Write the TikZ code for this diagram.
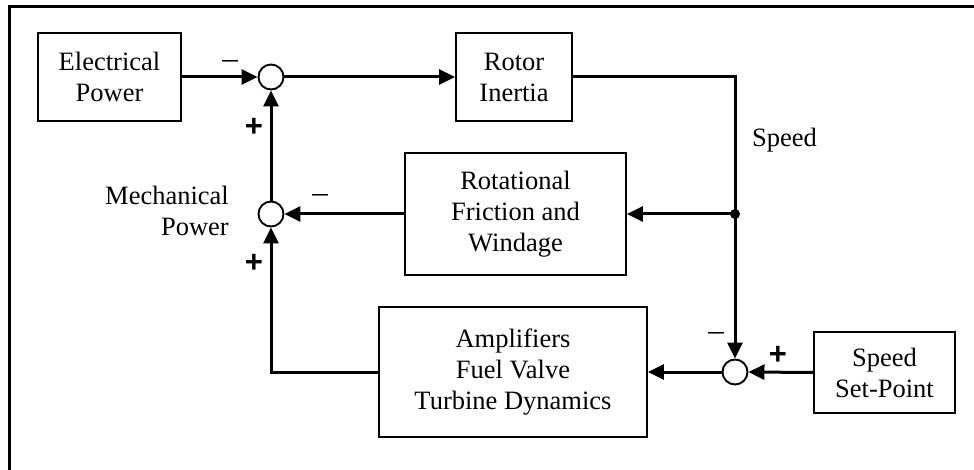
\documentclass[tikz,border=0pt]{standalone}
\usepackage{fontspec}
\setmainfont{Liberation Serif}
\newfontfamily\signfont{Liberation Sans}
\usetikzlibrary{arrows.meta}
\tikzset{
  blk/.style={draw, line width=1.9pt, inner sep=0pt, align=center, font=\fontsize{26.5}{31}\selectfont},
  sumc/.style={draw, circle, line width=1.9pt, minimum size=25pt, inner sep=0pt},
  conn/.style={line width=3pt, -{Triangle[length=16pt,width=15pt]}},
  plain/.style={line width=3pt},
  lbl/.style={inner sep=0pt, align=center, font=\fontsize{26.5}{31}\selectfont},
  plussign/.style={inner sep=0pt, font=\signfont\bfseries\fontsize{31}{31}\selectfont},
  minussign/.style={inner sep=0pt, font=\fontsize{31}{31}\selectfont},
}
\begin{document}
\begin{tikzpicture}[x=1pt,y=-1pt]
\useasboundingbox (0,0) rectangle (974,470);
\draw[line width=3.5pt] (9.5,472) -- (9.5,6.5) -- (976,6.5);

\node[blk, minimum width=143pt, minimum height=88pt] (elec) at (109.5,77) {Electrical\\Power};
\node[blk, minimum width=116pt, minimum height=88pt] (rotor) at (514,77) {Rotor\\Inertia};
\node[blk, minimum width=221pt, minimum height=122pt] (fric) at (515.5,214) {Rotational\\Friction and\\Windage};
\node[blk, minimum width=268pt, minimum height=130pt] (amp) at (513,372) {Amplifiers\\Fuel Valve\\Turbine Dynamics};
\node[blk, minimum width=141pt, minimum height=81pt] (sp) at (884.5,372.5) {Speed\\Set-Point};

\node[sumc] (s1) at (271,77) {};
\node[sumc] (s2) at (271,214) {};
\node[sumc] (s3) at (735,372) {};

\coordinate (c1) at (735,77);
\coordinate (j) at (735,214);
\fill (j) circle (5pt);

\draw[conn] (elec.east) -- (s1.west);
\draw[conn] (s1.east) -- (rotor.west);
\draw[plain] (rotor.east) -- (c1) -- (j);
\draw[conn] (j) -- (s3.north);
\draw[conn] (j) -- (fric.east);
\draw[conn] (fric.west) -- (s2.east);
\draw[conn] (s2.north) -- (s1.south);
\draw[conn] (amp.west) -| (s2.south);
\draw[conn] (sp.west) -- (s3.east);
\draw[conn] (s3.west) -- (amp.east);

\node[lbl, anchor=west] (speedlbl) at (752,140) {Speed};
\node[lbl, align=right, anchor=east] (mech) at (229,211) {Mechanical\\Power};

\node[minussign] (m1) at (230,65) {–};
\node[plussign] (p1) at (254,127) {+};
\node[minussign] (m2) at (320,199) {–};
\node[plussign] (p2) at (254,263) {+};
\node[minussign] (m3) at (716,337) {–};
\node[plussign] (p3) at (778,355) {+};
\end{tikzpicture}
\end{document}
